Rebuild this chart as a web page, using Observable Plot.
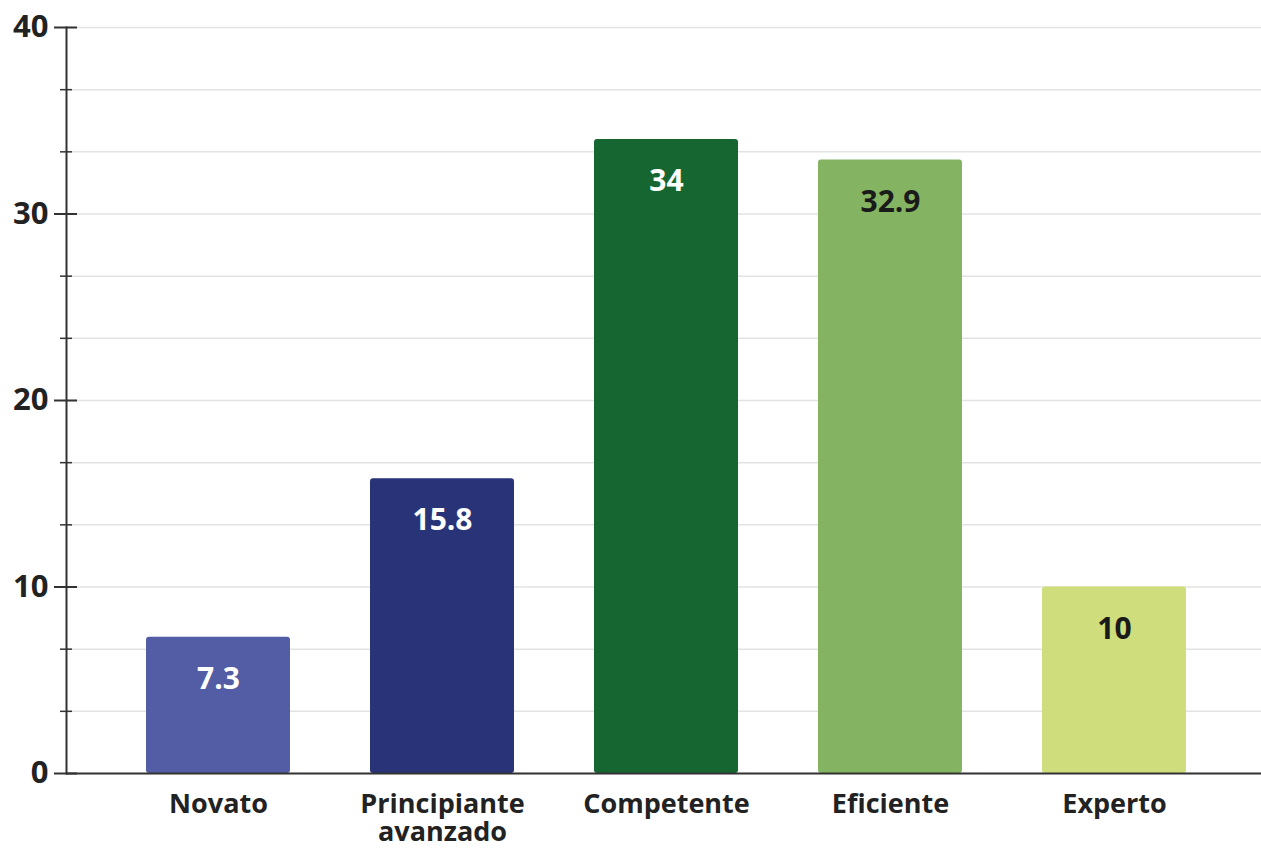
<!DOCTYPE html>
<html>
<head>
<meta charset="utf-8">
<script src="https://cdn.jsdelivr.net/npm/d3@7"></script>
<script src="https://cdn.jsdelivr.net/npm/@observablehq/plot@0.6"></script>
<style>
  html, body { margin: 0; padding: 0; background: #fff; }
  #chart svg { display: block; }
</style>
</head>
<body>
<div id="chart"></div>
<script>
const categories = ["Novato", "Principiante\navanzado", "Competente", "Eficiente", "Experto"];
const values = [7.3, 15.8, 34, 32.9, 10];
const barColors = ["#525da5", "#293377", "#166632", "#84b462", "#d0dd7c"];
const labelColors = ["#ffffff", "#ffffff", "#ffffff", "#1a1a1a", "#1a1a1a"];
const majorTicks = [0, 10, 20, 30, 40];
const minorTicks = [10/3, 20/3, 40/3, 50/3, 70/3, 80/3, 100/3, 110/3];
const gridTicks = [...majorTicks, ...minorTicks];

const data = categories.map((c, i) => ({
  cat: c, value: values[i], color: barColors[i], labelColor: labelColors[i]
}));

const font = "'Open Sans', sans-serif";

const chart = Plot.plot({
  width: 1261,
  height: 848,
  marginLeft: 66,
  marginRight: 0,
  marginTop: 27,
  marginBottom: 75,
  style: { fontFamily: font, background: "#fff" },
  x: { domain: categories, range: [66, 1266], paddingInner: 0.357, paddingOuter: 0.357, label: null },
  y: { domain: [0, 40], label: null },
  color: { type: "identity" },
  marks: [
    Plot.ruleY(gridTicks, { stroke: "#e3e3e3", strokeWidth: 1.5 }),
    Plot.barY(data, { x: "cat", y: "value", fill: "color", rx: 3 }),
    Plot.text(data, {
      x: "cat", y: "value", text: d => String(d.value), fill: "labelColor",
      dy: 42, fontSize: 30, fontWeight: 700, fontFamily: font
    }),
    Plot.frame({ anchor: "left", stroke: "#333", strokeWidth: 2 }),
    Plot.ruleY([0], { stroke: "#333", strokeWidth: 2 }),
    Plot.axisY({ ticks: majorTicks, tickSize: 23, dx: 11, text: null, label: null, stroke: "#333", strokeWidth: 2 }),
    Plot.axisY({ ticks: minorTicks, tickSize: 12, dx: 6, text: null, label: null, stroke: "#333", strokeWidth: 1.5 }),
    Plot.axisY({
      ticks: majorTicks, tickSize: 0, tickPadding: 18, label: null,
      fontSize: 31, fontWeight: 700, fill: "#222", fontFamily: font
    }),
    Plot.axisX({
      tickSize: 0, tickPadding: 19, label: null,
      fontSize: 27, fontWeight: 700, fill: "#222", fontFamily: font, lineHeight: 1.05
    })
  ]
});
document.getElementById("chart").appendChild(chart);
</script>
</body>
</html>
